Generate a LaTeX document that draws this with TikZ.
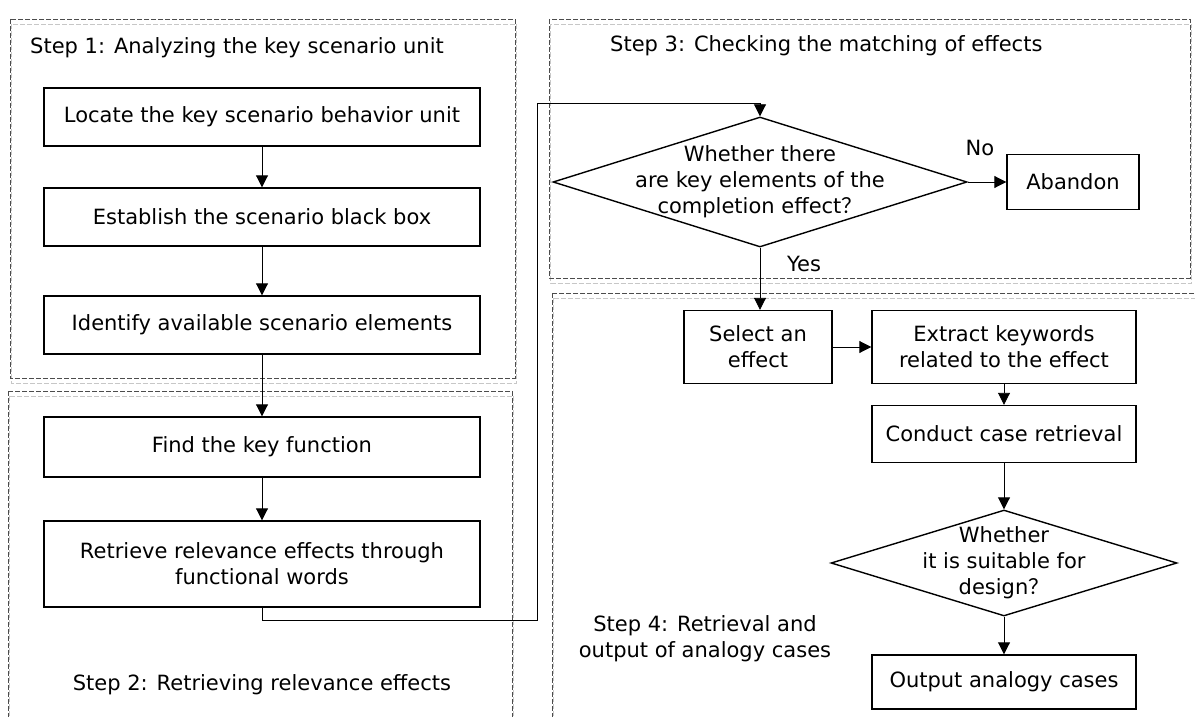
\documentclass[tikz,border=0pt]{standalone}
\usepackage{fontspec}
\setmainfont{DejaVu Sans}
\newfontfamily\cjkfont{Noto Sans CJK SC}
\usetikzlibrary{shapes.geometric,arrows.meta}

\tikzset{
  every node/.style={font=\fontsize{21}{26}\selectfont, inner sep=0pt},
  procbox/.style={draw=black, line width=1.4pt, rectangle, align=center},
  decision/.style={draw=black, line width=1.4pt, diamond},
  flow/.style={draw=black, line width=0.9pt, -{Triangle[length=12pt,width=12pt]}},
  plainline/.style={draw=black, line width=0.9pt},
  stepframe/.style={draw=black!70, line width=0.9pt, dash pattern=on 5pt off 2pt},
  stepshade/.style={draw=black!22, line width=0.9pt, dash pattern=on 5pt off 2pt},
  steptitle/.style={anchor=west},
}
\newcommand{\qmark}{{\cjkfont ？}}

\begin{document}
\begin{tikzpicture}[x=1pt,y=-1pt]
  \useasboundingbox[fill=white] (0,0) rectangle (1195,717);

  % dashed step frames with a light offset shade
  \foreach \a/\b/\c/\d in {10/19/515/378, 8/391/512/740, 549/19/1190/278, 552/293/1210/740}{
    \draw[stepshade] (\a+1.5,\b+5) rectangle (\c+1.5,\d+5);
    \draw[stepframe] (\a,\b) rectangle (\c,\d);
  }

  % step titles
  \node[steptitle] (t1) at (30,48) {Step 1: Analyzing the key scenario unit};
  \node[steptitle] (t3) at (610,46) {Step 3: Checking the matching of effects};
  \node (t2) at (262,685) {Step 2: Retrieving relevance effects};
  \node[align=center] (t4) at (705,639) {Step 4: Retrieval and\\output of analogy cases};

  % left column
  \node[procbox, minimum width=436pt, minimum height=58pt] (locate) at (262,117) {Locate the key scenario behavior unit};
  \node[procbox, minimum width=436pt, minimum height=58pt] (establish) at (262,217) {Establish the scenario black box};
  \node[procbox, minimum width=436pt, minimum height=58pt] (identify) at (262,325) {Identify available scenario elements};
  \node[procbox, minimum width=436pt, minimum height=60pt] (find) at (262,447) {Find the key function};
  \node[procbox, minimum width=436pt, minimum height=86pt] (retrieve) at (262,564) {Retrieve relevance effects through\\functional words};

  % right column: decisions are drawn as empty diamonds with their text on top
  \node[decision, minimum width=414pt, minimum height=130pt] (match) at (760,182) {};
  \node[align=center] (matchtext) at (match.center) {Whether there\\are key elements of the\\completion effect\qmark};
  \node[procbox, minimum width=132pt, minimum height=55pt] (abandon) at (1073,182) {Abandon};
  \node[procbox, minimum width=148pt, minimum height=73pt] (select) at (758,347) {Select an\\effect};
  \node[procbox, minimum width=264pt, minimum height=73pt] (extract) at (1004,347) {Extract keywords\\related to the effect};
  \node[procbox, minimum width=264pt, minimum height=57pt] (conduct) at (1004,434) {Conduct case retrieval};
  \node[decision, minimum width=346pt, minimum height=106pt] (suit) at (1004,563) {};
  \node[align=center] (suittext) at (suit.center) {Whether\\it is suitable for\\design\qmark};
  \node[procbox, minimum width=264pt, minimum height=54pt] (output) at (1004,682) {Output analogy cases};

  \node (no) at (980,148) {No};
  \node (yes) at (804,264) {Yes};

  % connectors
  \coordinate (c1) at (262,620);
  \coordinate (c2) at (537,620);
  \coordinate (c3) at (537,103);
  \coordinate (c4) at (760,103);

  \draw[flow] (locate) -- (establish);
  \draw[flow] (establish) -- (identify);
  \draw[flow] (identify) -- (find);
  \draw[flow] (find) -- (retrieve);
  \draw[plainline] (retrieve.south) -- (c1) -- (c2) -- (c3) -- (c4);
  \draw[flow] (c4) -- (match.north);
  \draw[flow] (match.east) -- (abandon.west);
  \draw[flow] (match.south) -- (select.north -| match.south);
  \draw[flow] (select) -- (extract);
  \draw[flow] (extract) -- (conduct);
  \draw[flow] (conduct) -- (suit);
  \draw[flow] (suit) -- (output);
\end{tikzpicture}
\end{document}
